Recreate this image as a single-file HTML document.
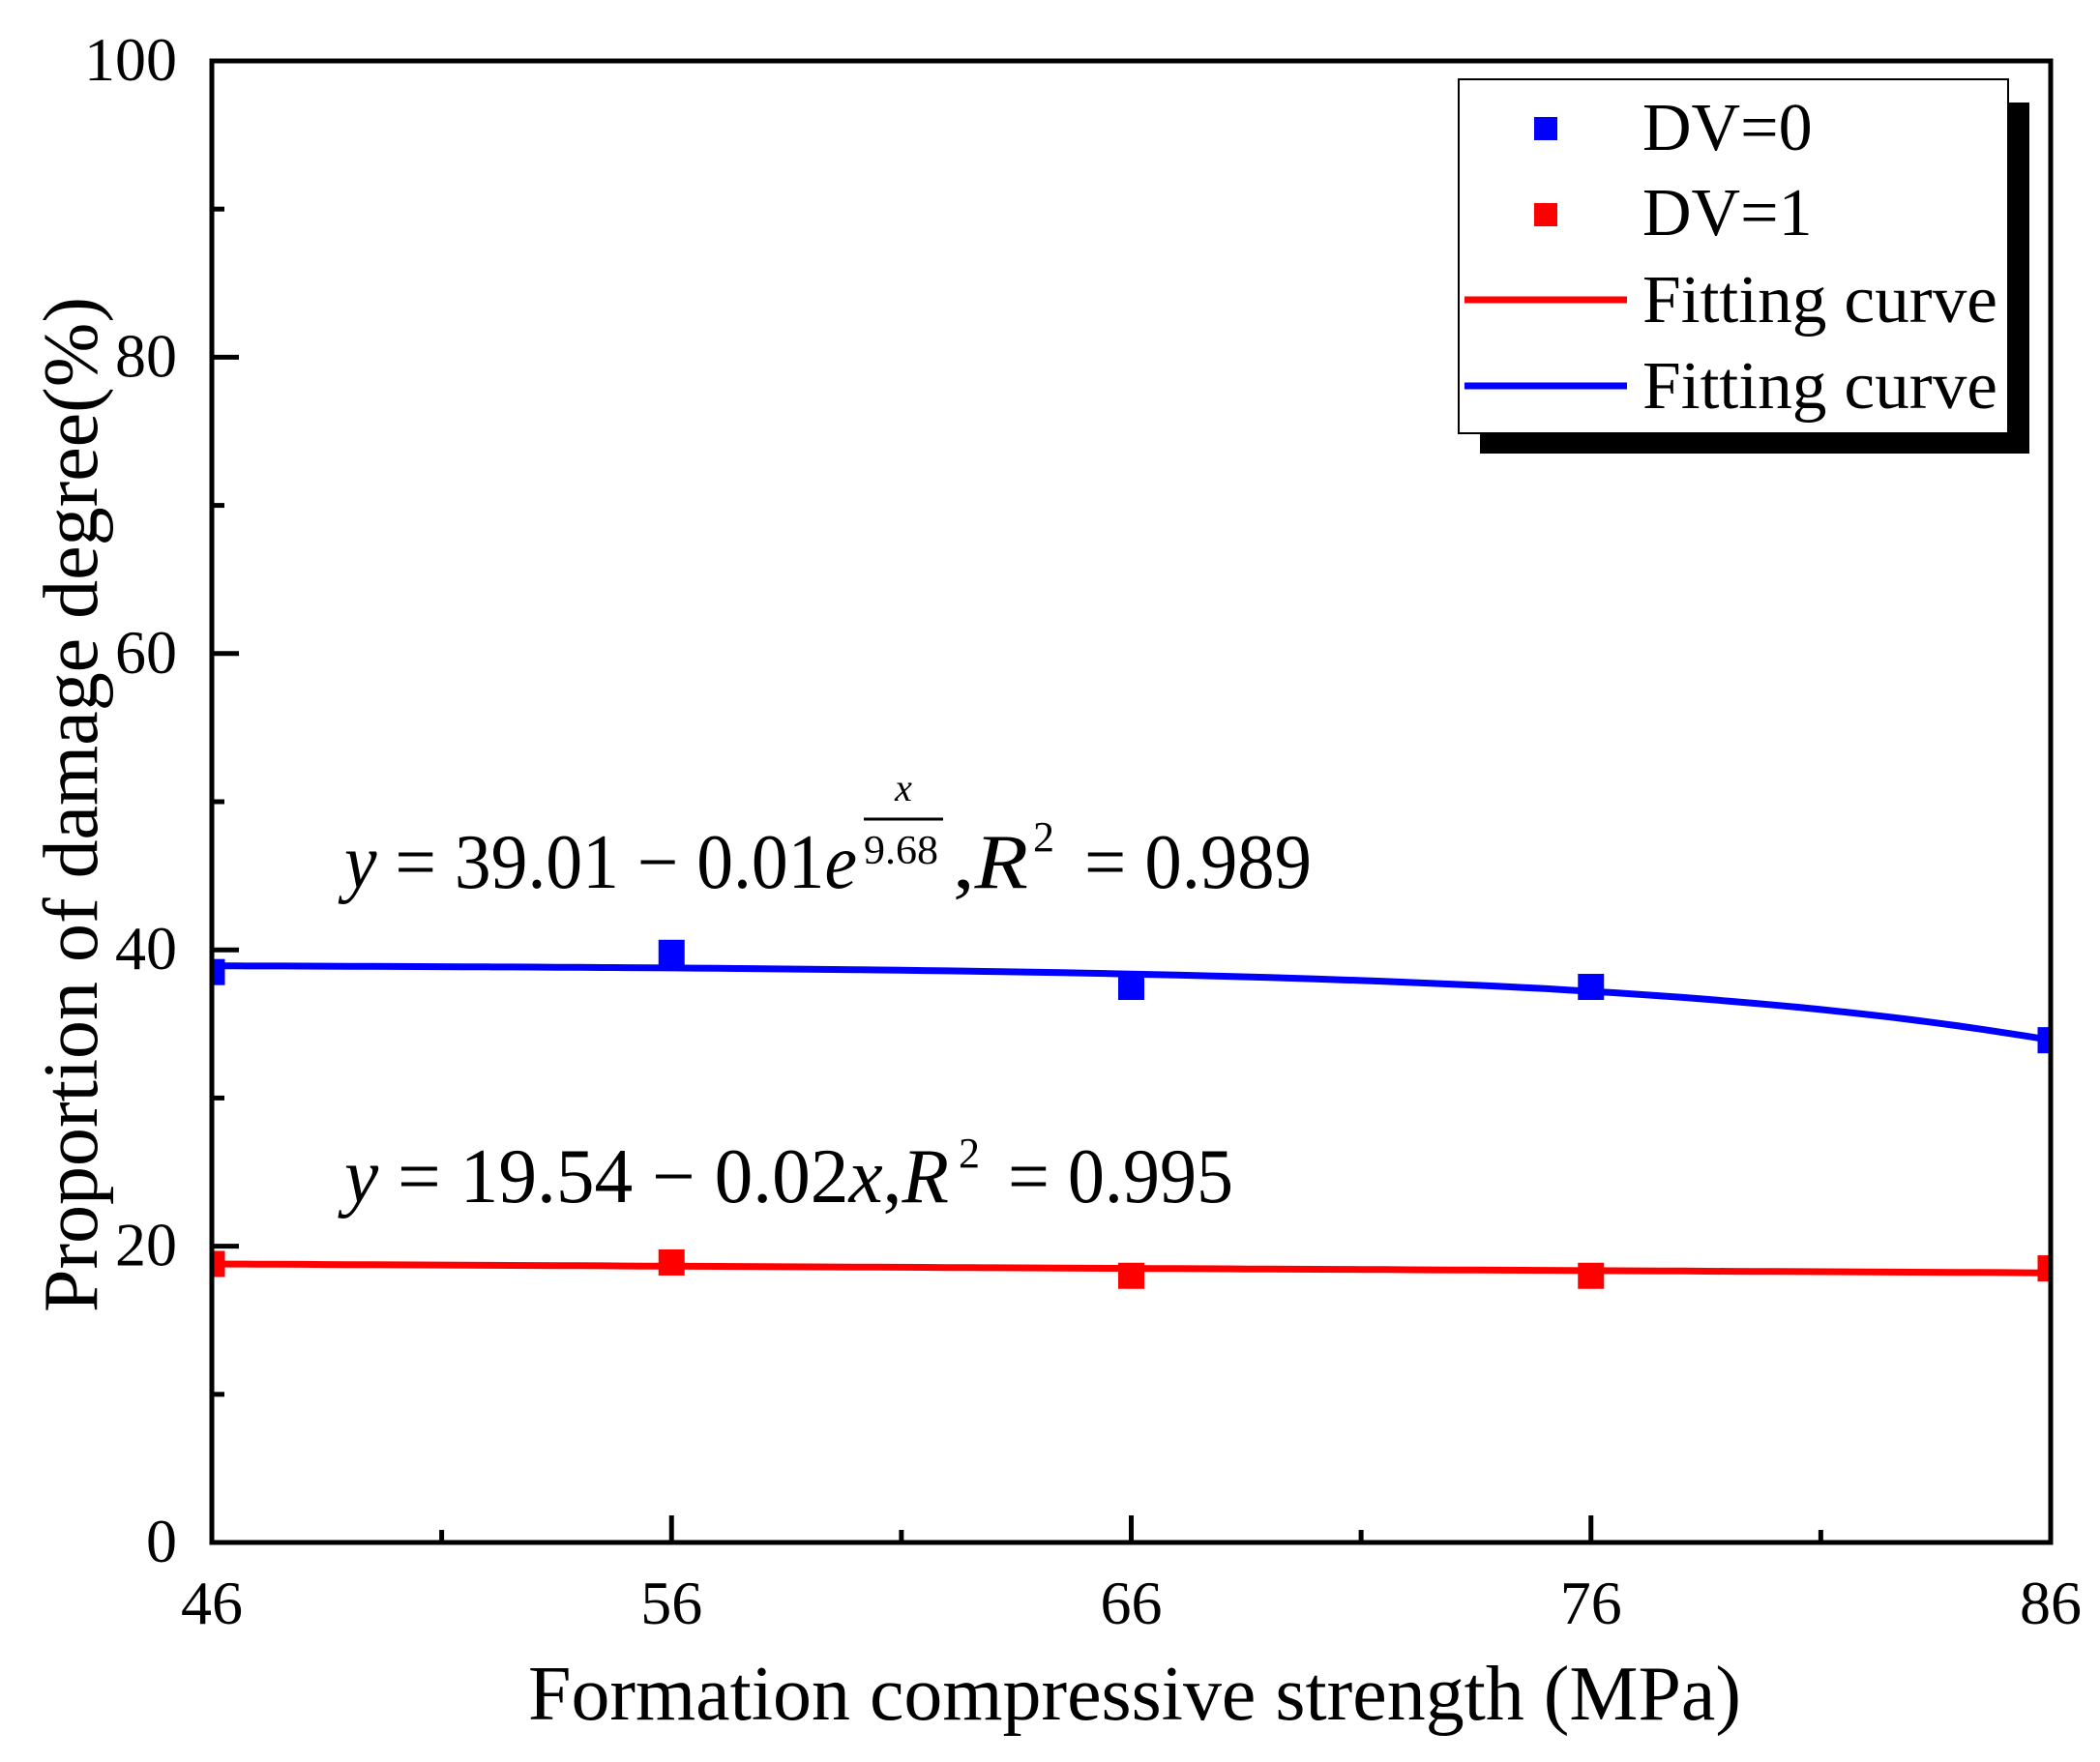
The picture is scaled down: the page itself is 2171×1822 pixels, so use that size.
<!DOCTYPE html>
<html><head><meta charset="utf-8"><style>
html,body{margin:0;padding:0;background:#fff}
svg{display:block}
text{font-family:"Liberation Serif",serif;fill:#000}
</style></head><body>
<svg width="2171" height="1822" viewBox="0 0 2171 1822">
<defs><clipPath id="pc"><rect x="219" y="63" width="1901" height="1532"/></clipPath></defs>
<g id="ticks"></g>
<g id="marks" clip-path="url(#pc)"></g>
<rect x="219" y="63" width="1901" height="1532" fill="none" stroke="#000" stroke-width="5"/>
<g>
<text x="356" y="918" font-size="80" textLength="530" lengthAdjust="spacingAndGlyphs"><tspan font-style="italic">y</tspan> = 39.01 − 0.01<tspan font-style="italic">e</tspan></text>
<text x="934" y="828" font-size="40" font-style="italic" text-anchor="middle">x</text>
<line x1="893" y1="847" x2="975" y2="847" stroke="#000" stroke-width="3"/>
<text x="893" y="893" font-size="42" textLength="77" lengthAdjust="spacingAndGlyphs">9.68</text>
<text x="985" y="918" font-size="80" textLength="78" lengthAdjust="spacingAndGlyphs">,<tspan font-style="italic">R</tspan></text>
<text x="1068" y="880" font-size="44">2</text>
<text x="1121" y="918" font-size="80" textLength="235" lengthAdjust="spacingAndGlyphs">= 0.989</text>
</g>
<g>
<text x="356" y="1243" font-size="80" textLength="625" lengthAdjust="spacingAndGlyphs"><tspan font-style="italic">y</tspan> = 19.54 − 0.02<tspan font-style="italic">x</tspan>,<tspan font-style="italic">R</tspan></text>
<text x="991" y="1207" font-size="44">2</text>
<text x="1042" y="1243" font-size="80" textLength="233" lengthAdjust="spacingAndGlyphs">= 0.995</text>
</g>
<g>
<rect x="1530" y="106" width="568" height="363" fill="#000"/>
<rect x="1508" y="82" width="568" height="366" fill="#fff" stroke="#000" stroke-width="2"/>
<rect x="1586" y="121" width="24" height="24" fill="#0000ff"/>
<text x="1698" y="155" font-size="70">DV=0</text>
<rect x="1586" y="210" width="24" height="24" fill="#ff0000"/>
<text x="1698" y="243" font-size="70">DV=1</text>
<line x1="1514" y1="310" x2="1682" y2="310" stroke="#ff0000" stroke-width="7"/>
<text x="1698" y="333" font-size="70" textLength="367" lengthAdjust="spacingAndGlyphs">Fitting curve</text>
<line x1="1514" y1="399" x2="1682" y2="399" stroke="#0000ff" stroke-width="7"/>
<text x="1698" y="422" font-size="70" textLength="367" lengthAdjust="spacingAndGlyphs">Fitting curve</text>
</g>
<text x="1173" y="1778" font-size="80" text-anchor="middle" textLength="1254" lengthAdjust="spacingAndGlyphs">Formation compressive strength (MPa)</text>
<text transform="translate(100,832) rotate(-90)" font-size="80" text-anchor="middle" textLength="1050" lengthAdjust="spacingAndGlyphs">Proportion of damage degree(%)</text>
</svg>
<script>
const xCats = [46, 56, 66, 76, 86];
const dv0 = [38.5, 39.8, 37.5, 37.5, 33.9];
const dv1 = [18.8, 18.9, 18.0, 18.0, 18.5];
const xTicks = [46, 56, 66, 76, 86];
const yTicks = [0, 20, 40, 60, 80, 100];
const blueFitParams = [39.0, 0.079, 9.6];
const redFitParams = [18.8, 18.2];

const L=219,R=2120,T=63,B=1595;
const sx=v=>L+(v-46)/(86-46)*(R-L);
const sy=v=>B-(v/100)*(B-T);
const NS='http://www.w3.org/2000/svg';
function mk(tag,attrs,parent){const e=document.createElementNS(NS,tag);for(const k in attrs)e.setAttribute(k,attrs[k]);parent.appendChild(e);return e;}
const tg=document.getElementById('ticks'), mg=document.getElementById('marks');
xTicks.forEach((v,i)=>{
  const l=mk('line',{x1:sx(v),x2:sx(v),y1:B,y2:B-28,stroke:'#000','stroke-width':5},tg);
  
  
  const t=mk('text',{x:sx(v),y:B+84,'font-size':64,'text-anchor':'middle'},tg);
  t.textContent=v;
  
  
  if(i<xTicks.length-1){
    const m=mk('line',{x1:sx(v+5),x2:sx(v+5),y1:B,y2:B-13,stroke:'#000','stroke-width':5},tg);
    
    
  }
});
yTicks.forEach((v,i)=>{
  const l=mk('line',{x1:L,x2:L+28,y1:sy(v),y2:sy(v),stroke:'#000','stroke-width':5},tg);
  
  
  const t=mk('text',{x:183,y:sy(v)+20,'font-size':64,'text-anchor':'end'},tg);
  t.textContent=v;
  
  
  if(i<yTicks.length-1){
    const m=mk('line',{x1:L,x2:L+13,y1:sy(v+10),y2:sy(v+10),stroke:'#000','stroke-width':5},tg);
    
    
  }
});
let bp='',rp='';
for(let x=46;x<=86.001;x+=0.5){
  const yb=blueFitParams[0]-blueFitParams[1]*Math.exp((x-46)/blueFitParams[2]);
  const yr=redFitParams[0]+(redFitParams[1]-redFitParams[0])*(x-46)/40;
  bp+=(bp?'L':'M')+sx(x).toFixed(1)+' '+sy(yb).toFixed(1);
  rp+=(rp?'L':'M')+sx(x).toFixed(1)+' '+sy(yr).toFixed(1);
}
const rc=mk('path',{d:rp,fill:'none',stroke:'#ff0000','stroke-width':7},mg);


const bc=mk('path',{d:bp,fill:'none',stroke:'#0000ff','stroke-width':7},mg);


const S=27;
xCats.forEach((x,i)=>{
  const a=mk('rect',{x:sx(x)-S/2,y:sy(dv0[i])-S/2,width:S,height:S,fill:'#0000ff'},mg);
  
  
  const b=mk('rect',{x:sx(x)-S/2,y:sy(dv1[i])-S/2,width:S,height:S,fill:'#ff0000'},mg);
  
  
});
</script>
</body></html>
